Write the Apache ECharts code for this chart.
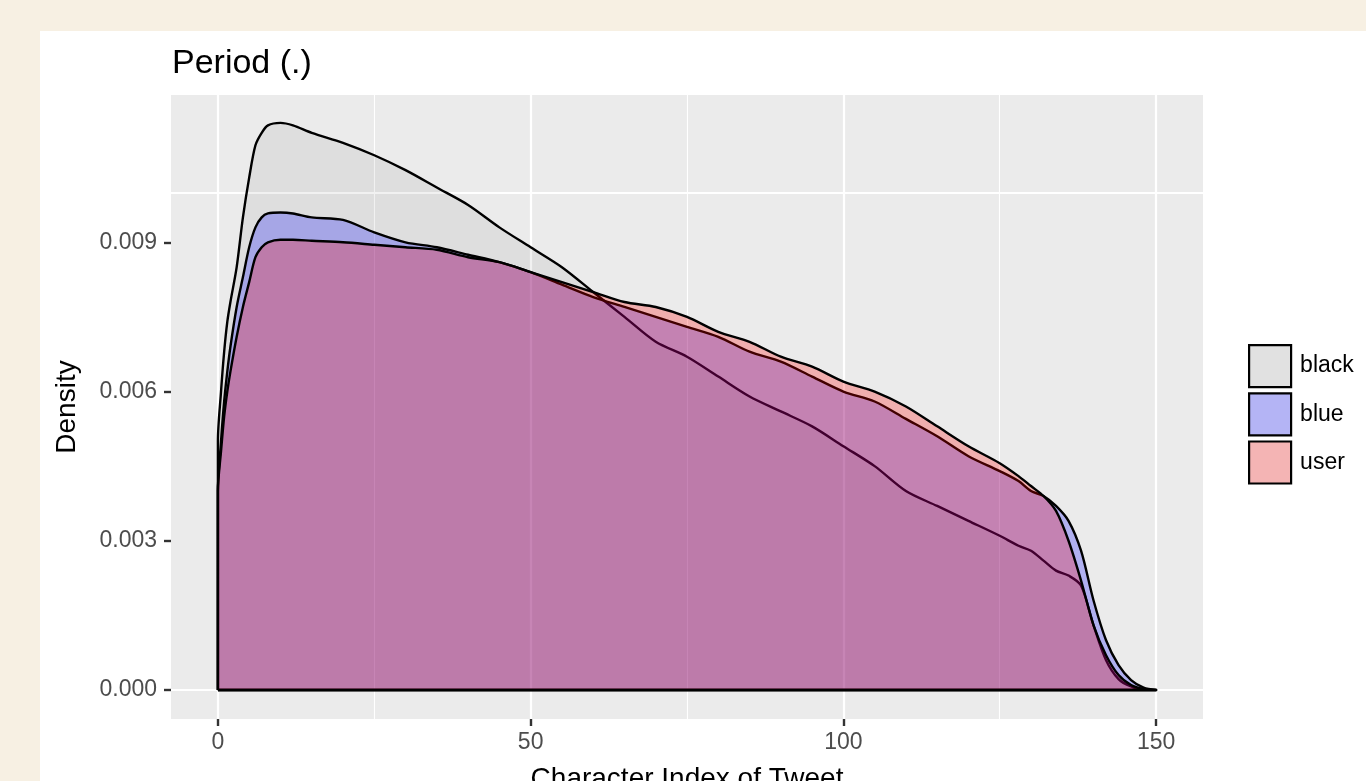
<!DOCTYPE html>
<html>
<head>
<meta charset="utf-8">
<script src="https://cdn.jsdelivr.net/npm/echarts@6/dist/echarts.min.js"></script>
<style>
html,body{margin:0;padding:0;background:#F7F0E3;width:1366px;height:781px;overflow:hidden;}
#panel{position:absolute;left:40px;top:31px;width:1326px;height:750px;background:#FFFFFF;}
#chart{position:absolute;left:0;top:0;width:1366px;height:781px;}
</style>
</head>
<body>
<div id="panel"></div>
<div id="chart"></div>
<script>
// ---- data ----
const seriesNames = ['black', 'blue', 'user'];
const xs = [0, 0.5, 1, 1.5, 2, 3, 4, 5, 6, 7, 8, 10, 12, 15, 20, 25, 30, 35, 40, 45, 50, 55, 60, 65, 70, 75, 80, 85, 90, 95, 100, 105, 110, 115, 120, 125, 128, 130, 132, 134, 136, 138, 140, 142, 144, 146, 148, 150];
const blackDensity = [0.0050, 0.0060, 0.0068, 0.0074, 0.0078, 0.0085, 0.0095, 0.0103, 0.01095, 0.0112, 0.01135, 0.0114, 0.01135, 0.0112, 0.0110, 0.01075, 0.01045, 0.0101, 0.00975, 0.0093, 0.0089, 0.0085, 0.0080, 0.0075, 0.0070, 0.0067, 0.0063, 0.0059, 0.0056, 0.0053, 0.0049, 0.0045, 0.0040, 0.0037, 0.0034, 0.0031, 0.0029, 0.0028, 0.0026, 0.0024, 0.0023, 0.0021, 0.0013, 0.0006, 0.00022, 0.00007, 0.00001, 0];
const blueDensity = [0.0040, 0.0050, 0.0058, 0.0064, 0.0069, 0.0077, 0.0083, 0.0089, 0.0093, 0.0095, 0.00958, 0.0096, 0.00958, 0.0095, 0.00945, 0.0092, 0.0090, 0.0089, 0.00875, 0.0086, 0.0084, 0.00815, 0.0079, 0.0077, 0.0075, 0.0073, 0.0071, 0.0068, 0.0066, 0.0063, 0.0060, 0.0058, 0.00545, 0.0051, 0.0047, 0.0044, 0.0042, 0.0040, 0.0039, 0.0037, 0.0034, 0.0028, 0.0018, 0.0010, 0.0005, 0.0002, 0.00005, 0];
const userDensity = [0.0040, 0.0048, 0.0055, 0.0060, 0.0064, 0.0071, 0.0077, 0.0082, 0.0087, 0.0089, 0.0090, 0.00905, 0.00905, 0.00903, 0.0090, 0.00895, 0.0089, 0.00885, 0.0087, 0.0086, 0.0084, 0.0082, 0.0080, 0.0078, 0.0077, 0.0075, 0.0072, 0.0070, 0.0067, 0.0065, 0.0062, 0.0060, 0.0057, 0.0053, 0.0049, 0.00456, 0.0043, 0.0041, 0.0039, 0.0036, 0.0030, 0.0022, 0.0013, 0.0007, 0.0003, 0.0001, 0.00002, 0];
const xTicks = [0, 50, 100, 150];
const xMinor = [25, 75, 125];
const yTicks = [0, 0.003, 0.006, 0.009];
const yMinor = [0.0015, 0.0045, 0.0075, 0.0105];

// ---- styles ----
const fills = ['rgba(0,0,0,0.055)', 'rgba(0,0,255,0.25)', 'rgba(255,0,0,0.26)'];
const keyFills = ['#E1E1E1', '#B4B4F5', '#F4B4B4'];
const FONT = '"Liberation Sans", Arial, Helvetica, sans-serif';

function outline(ys) {
  // density polygon: baseline at x=0, curve, then back along the baseline
  const pts = [[xs[0], 0]];
  for (let i = 0; i < xs.length; i++) pts.push([xs[i], ys[i]]);
  pts.push([xs[0], 0]);
  return pts;
}

const chart = echarts.init(document.getElementById('chart'), null, {renderer: 'canvas'});

const gridLines = [];
xMinor.forEach(v => gridLines.push({xAxis: v, lineStyle: {width: 1.1}}));
yMinor.forEach(v => gridLines.push({yAxis: v, lineStyle: {width: 1.1}}));
xTicks.forEach(v => gridLines.push({xAxis: v, lineStyle: {width: 2.2}}));
yTicks.forEach(v => gridLines.push({yAxis: v, lineStyle: {width: 2.2}}));

const dens = [blackDensity, blueDensity, userDensity];
const series = [{
  name: '_grid',
  type: 'line',
  data: [],
  silent: true,
  z: 1,
  markLine: {
    silent: true,
    z: 1,
    symbol: 'none',
    animation: false,
    label: {show: false},
    lineStyle: {color: '#FFFFFF', type: 'solid', opacity: 1},
    emphasis: {disabled: true},
    data: gridLines
  }
}];
seriesNames.forEach((n, i) => {
  series.push({
    name: n,
    type: 'line',
    data: outline(dens[i]),
    showSymbol: false,
    symbol: 'none',
    smooth: 0.3,
    z: 3 + i,
    lineStyle: {color: '#000000', width: 2.4, join: 'round'},
    itemStyle: {color: keyFills[i]},
    areaStyle: {color: fills[i], opacity: 1, origin: 0},
    emphasis: {disabled: true},
    animation: false
  });
});

chart.setOption({
  animation: false,
  textStyle: {fontFamily: FONT},
  title: {
    text: 'Period (.)',
    left: 167,
    top: 42,
    textStyle: {fontSize: 34, fontWeight: 'normal', color: '#000000', fontFamily: FONT}
  },
  grid: {
    left: 171, right: 163, top: 95, bottom: 62,
    outerBoundsMode: 'none',
    containLabel: false,
    show: true, backgroundColor: '#EBEBEB', borderWidth: 0
  },
  legend: {
    orient: 'vertical',
    left: 1243,
    top: 339,
    itemWidth: 42,
    itemHeight: 42,
    itemGap: 4,
    selectedMode: false,
    textStyle: {fontSize: 23, color: '#000000', fontFamily: FONT, padding: [0, 0, 0, 4]},
    data: seriesNames.map((n, i) => ({
      name: n,
      icon: 'rect',
      itemStyle: {color: keyFills[i], borderColor: '#000000', borderWidth: 2.2}
    }))
  },
  xAxis: {
    type: 'value',
    min: -7.5,
    max: 157.5,
    position: 'bottom',
    name: 'Character Index of Tweet',
    nameLocation: 'middle',
    nameGap: 46,
    nameTextStyle: {fontSize: 28, color: '#000000', fontFamily: FONT},
    axisLine: {show: false, onZero: false},
    splitLine: {show: false},
    axisTick: {show: true, inside: false, length: 7, lineStyle: {color: '#333333', width: 2.4}, customValues: xTicks},
    axisLabel: {show: true, fontSize: 23, color: '#4D4D4D', margin: 12, customValues: xTicks, formatter: v => String(v)}
  },
  yAxis: {
    type: 'value',
    min: -0.000583,
    max: 0.011961,
    position: 'left',
    name: 'Density',
    nameLocation: 'middle',
    nameGap: 90,
    nameRotate: 90,
    nameTextStyle: {fontSize: 28, color: '#000000', fontFamily: FONT},
    axisLine: {show: false, onZero: false},
    splitLine: {show: false},
    axisTick: {show: true, inside: false, length: 7, lineStyle: {color: '#333333', width: 2.4}, customValues: yTicks},
    axisLabel: {show: true, fontSize: 23, color: '#4D4D4D', margin: 14, customValues: yTicks, formatter: v => v.toFixed(3)}
  },
  series: series
});
</script>
</body>
</html>
